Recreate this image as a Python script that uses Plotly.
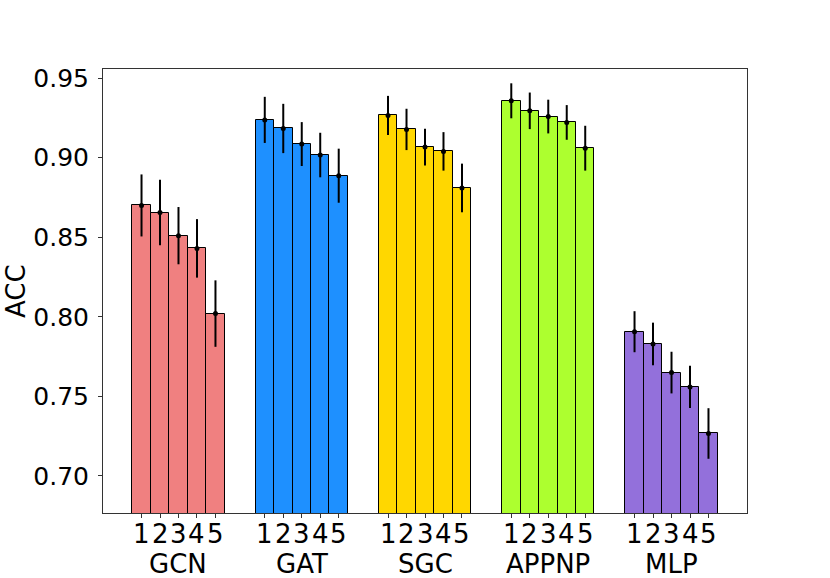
import plotly.graph_objects as go

models = ["GCN", "GAT", "SGC", "APPNP", "MLP"]
bar_labels = ["1", "2", "3", "4", "5"]
colors = ["#F08080", "#1E90FF", "#FFD700", "#ADFF2F", "#9370DB"]

acc_gcn = [0.870, 0.8655, 0.851, 0.843, 0.802]
acc_gat = [0.9238, 0.9184, 0.9086, 0.9017, 0.8887]
acc_sgc = [0.9266, 0.9178, 0.9067, 0.904, 0.881]
acc_appnp = [0.9358, 0.9295, 0.9259, 0.9222, 0.906]
acc_mlp = [0.7906, 0.7829, 0.7649, 0.7559, 0.7266]

err_gcn = [0.0195, 0.0206, 0.018, 0.0184, 0.0209]
err_gat = [0.0145, 0.0155, 0.0138, 0.014, 0.017]
err_sgc = [0.0123, 0.013, 0.0116, 0.0121, 0.0153]
err_appnp = [0.011, 0.0115, 0.0106, 0.0109, 0.0141]
err_mlp = [0.0129, 0.0134, 0.0131, 0.0133, 0.0159]

accs = [acc_gcn, acc_gat, acc_sgc, acc_appnp, acc_mlp]
errs = [err_gcn, err_gat, err_sgc, err_appnp, err_mlp]

width = 0.15
FONT = "DejaVu Sans"

L, T, PW, PH = 103, 69, 644, 444

fig = go.Figure()
tickvals, ticktext = [], []
for g, (name, vals, ers, col) in enumerate(zip(models, accs, errs, colors)):
    xs = [g + (i - 2) * width for i in range(len(vals))]
    tickvals += xs
    ticktext += bar_labels
    fig.add_trace(go.Bar(
        x=xs, y=vals, width=width, marker=dict(color=col, line=dict(color="black", width=1)),
        showlegend=False, name=name,
    ))
    fig.add_trace(go.Scatter(
        x=xs, y=vals, mode="markers",
        marker=dict(color="black", size=5),
        error_y=dict(type="data", array=ers, color="black", thickness=2, width=0),
        showlegend=False,
    ))

fig.update_layout(
    width=830, height=578,
    margin=dict(l=L, r=830 - L - PW, t=T, b=578 - T - PH),
    paper_bgcolor="white", plot_bgcolor="white",
    font=dict(family=FONT, size=24, color="black"),
    bargap=0,
    xaxis=dict(
        range=[-0.6125, 4.6125], tickmode="array", tickvals=tickvals, ticktext=ticktext,
        ticks="outside", ticklen=4, tickcolor="#333", showgrid=False, zeroline=False,
        showline=True, linecolor="#333", linewidth=1, mirror=True, automargin=False,
        showticklabels=False,
    ),
    yaxis=dict(
        range=[0.6766, 0.9558], tickmode="array",
        tickvals=[0.70, 0.75, 0.80, 0.85, 0.90, 0.95],
        ticktext=["0.70", "0.75", "0.80", "0.85", "0.90", "0.95"],
        ticks="outside", ticklen=4, tickcolor="#333", showgrid=False, zeroline=False,
        showline=True, linecolor="#333", linewidth=1, mirror=True, automargin=False,
        tickfont=dict(family=FONT, size=25, color="black"),
        ticklabelstandoff=4,
    ),
)

for x, t in zip(tickvals, ticktext):
    fig.add_annotation(x=x, xref="x", y=0, yref="paper", yshift=-21, text=t,
                       showarrow=False, yanchor="middle", xanchor="center",
                       font=dict(family=FONT, size=26, color="black"))

for g, name in enumerate(models):
    fig.add_annotation(x=g, xref="x", y=0, yref="paper", yshift=-51, text=name,
                       showarrow=False, yanchor="middle", xanchor="center",
                       font=dict(family=FONT, size=26, color="black"))

fig.add_annotation(x=(16 - L) / PW, xref="paper", y=0.5, yref="paper", text="ACC",
                   textangle=-90, showarrow=False, xanchor="center", yanchor="middle",
                   font=dict(family=FONT, size=26, color="black"))

fig.write_html("out.html", config={"displayModeBar": False},
               post_script="document.body.style.margin='0';")
